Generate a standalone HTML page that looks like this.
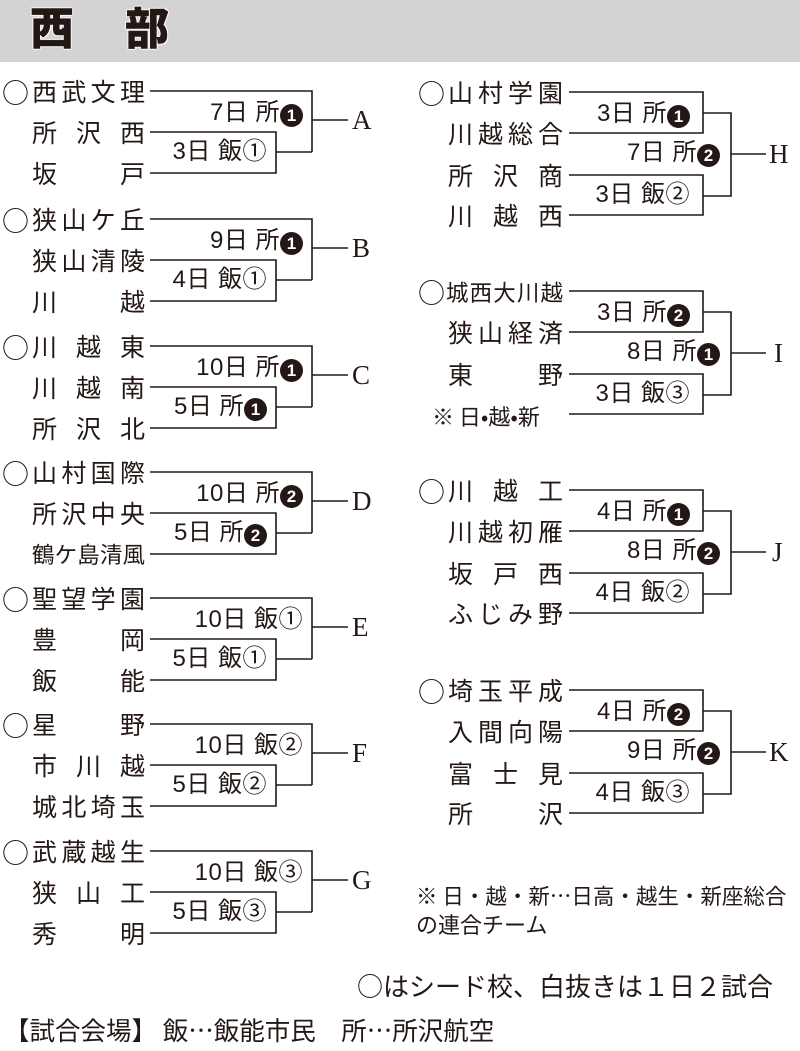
<!DOCTYPE html>
<html><head><meta charset="utf-8"><style>
body{margin:0;width:800px;height:1051px;background:#fff;position:relative;overflow:hidden;font-family:"Liberation Sans","Noto Sans CJK JP",sans-serif;color:#231815}
.hd{position:absolute;left:0;top:0;width:800px;height:62px;background:#d3d3d3}
.ht{position:absolute;top:2px;font-size:44px;font-weight:900;line-height:56px;-webkit-text-stroke:0.5px #231815;text-shadow:0 0 2px #fff,0 0 2px #fff,1px 1px 0 #fff,-1px -1px 0 #fff,1px -1px 0 #fff,-1px 1px 0 #fff}
.n{position:absolute;font-size:25px;line-height:30px;height:30px;text-align:justify;text-align-last:justify;white-space:nowrap}
.s{position:absolute;font-size:27px;line-height:30px;font-family:"Noto Sans CJK JP",sans-serif}
.l{position:absolute;font-size:24px;line-height:26px;white-space:nowrap;text-align:right;letter-spacing:0.5px}
.b{display:inline-block;width:23px;height:23px;border-radius:50%;background:#231815;color:#fff;font-size:17px;font-weight:bold;line-height:23px;text-align:center;vertical-align:-1px;font-family:"Liberation Sans",sans-serif;letter-spacing:0}
.L{position:absolute;font-family:"Liberation Serif",serif;font-size:27px;line-height:30px}
.t{position:absolute;font-size:22px;line-height:28px;white-space:nowrap;font-family:"Noto Sans CJK JP",sans-serif}
</style></head><body>
<div class="hd"></div>
<div class="ht" style="left:30px">西</div>
<div class="ht" style="left:125px">部</div>

<svg width="800" height="1051" style="position:absolute;left:0;top:0" fill="none" stroke="#231815" stroke-width="1.6">
<path d="M150 91H312V152M150 132H276V173H150M276 152H312M312 120H348"/>
<path d="M150 219H312V280M150 260H276V301H150M276 280H312M312 248H348"/>
<path d="M150 346H312V407M150 387H276V428H150M276 407H312M312 375H348"/>
<path d="M150 472H312V533M150 513H276V554H150M276 533H312M312 501H348"/>
<path d="M150 598H312V659M150 639H276V680H150M276 659H312M312 627H348"/>
<path d="M150 724H312V785M150 765H276V806H150M276 785H312M312 753H348"/>
<path d="M150 851H312V912M150 892H276V933H150M276 912H312M312 880H348"/>
<path d="M569 92H703V133H569M569 175H703V215H569M703 113H731V196H703M731 154H766"/>
<path d="M569 291H703V332H569M569 374H703V414H569M703 312H731V395H703M731 353H766"/>
<path d="M569 490H703V531H569M569 573H703V613H569M703 511H731V594H703M731 552H766"/>
<path d="M569 690H703V731H569M569 773H703V813H569M703 711H731V794H703M731 752H766"/>
</svg>

<div class="s" style="left:2px;top:77px">○</div>
<div class="n" style="left:32px;top:78px;width:113px">西武文理</div>
<div class="n" style="left:32px;top:119px;width:113px">所沢西</div>
<div class="n" style="left:32px;top:160px;width:113px">坂戸</div>
<div class="l" style="right:497px;top:100px">7日 所<span class="b">1</span></div>
<div class="l" style="right:533px;top:139px">3日 飯①</div>
<div class="L" style="left:352px;top:105px">A</div>

<div class="s" style="left:2px;top:205px">○</div>
<div class="n" style="left:32px;top:206px;width:113px">狭山ケ丘</div>
<div class="n" style="left:32px;top:247px;width:113px">狭山清陵</div>
<div class="n" style="left:32px;top:288px;width:113px">川越</div>
<div class="l" style="right:497px;top:228px">9日 所<span class="b">1</span></div>
<div class="l" style="right:533px;top:267px">4日 飯①</div>
<div class="L" style="left:352px;top:233px">B</div>

<div class="s" style="left:2px;top:332px">○</div>
<div class="n" style="left:32px;top:333px;width:113px">川越東</div>
<div class="n" style="left:32px;top:374px;width:113px">川越南</div>
<div class="n" style="left:32px;top:415px;width:113px">所沢北</div>
<div class="l" style="right:497px;top:355px">10日 所<span class="b">1</span></div>
<div class="l" style="right:533px;top:394px">5日 所<span class="b">1</span></div>
<div class="L" style="left:352px;top:360px">C</div>

<div class="s" style="left:2px;top:458px">○</div>
<div class="n" style="left:32px;top:459px;width:113px">山村国際</div>
<div class="n" style="left:32px;top:500px;width:113px">所沢中央</div>
<div class="n" style="left:32px;top:541px;width:113px;font-size:22.5px">鶴ケ島清風</div>
<div class="l" style="right:497px;top:481px">10日 所<span class="b">2</span></div>
<div class="l" style="right:533px;top:520px">5日 所<span class="b">2</span></div>
<div class="L" style="left:352px;top:486px">D</div>

<div class="s" style="left:2px;top:584px">○</div>
<div class="n" style="left:32px;top:585px;width:113px">聖望学園</div>
<div class="n" style="left:32px;top:626px;width:113px">豊岡</div>
<div class="n" style="left:32px;top:667px;width:113px">飯能</div>
<div class="l" style="right:497px;top:607px">10日 飯①</div>
<div class="l" style="right:533px;top:646px">5日 飯①</div>
<div class="L" style="left:352px;top:612px">E</div>

<div class="s" style="left:2px;top:710px">○</div>
<div class="n" style="left:32px;top:711px;width:113px">星野</div>
<div class="n" style="left:32px;top:752px;width:113px">市川越</div>
<div class="n" style="left:32px;top:793px;width:113px">城北埼玉</div>
<div class="l" style="right:497px;top:733px">10日 飯②</div>
<div class="l" style="right:533px;top:772px">5日 飯②</div>
<div class="L" style="left:352px;top:738px">F</div>

<div class="s" style="left:2px;top:837px">○</div>
<div class="n" style="left:32px;top:838px;width:113px">武蔵越生</div>
<div class="n" style="left:32px;top:879px;width:113px">狭山工</div>
<div class="n" style="left:32px;top:920px;width:113px">秀明</div>
<div class="l" style="right:497px;top:860px">10日 飯③</div>
<div class="l" style="right:533px;top:899px">5日 飯③</div>
<div class="L" style="left:352px;top:865px">G</div>

<div class="s" style="left:418px;top:78px">○</div>
<div class="n" style="left:448px;top:79px;width:115px">山村学園</div>
<div class="n" style="left:448px;top:120px;width:115px">川越総合</div>
<div class="n" style="left:448px;top:162px;width:115px">所沢商</div>
<div class="n" style="left:448px;top:202px;width:115px">川越西</div>
<div class="l" style="right:110px;top:101px">3日 所<span class="b">1</span></div>
<div class="l" style="right:80px;top:140px">7日 所<span class="b">2</span></div>
<div class="l" style="right:110px;top:182px">3日 飯②</div>
<div class="L" style="left:769px;top:139px">H</div>

<div class="s" style="left:418px;top:277px">○</div>
<div class="n" style="left:446px;top:279px;width:117px;font-size:22.5px">城西大川越</div>
<div class="n" style="left:448px;top:319px;width:115px">狭山経済</div>
<div class="n" style="left:448px;top:361px;width:115px">東野</div>
<div class="s" style="left:432px;top:401px;font-size:22px">※ 日•越•新</div>
<div class="l" style="right:110px;top:300px">3日 所<span class="b">2</span></div>
<div class="l" style="right:80px;top:339px">8日 所<span class="b">1</span></div>
<div class="l" style="right:110px;top:381px">3日 飯③</div>
<div class="L" style="left:774px;top:338px">I</div>

<div class="s" style="left:418px;top:476px">○</div>
<div class="n" style="left:448px;top:477px;width:115px">川越工</div>
<div class="n" style="left:448px;top:518px;width:115px">川越初雁</div>
<div class="n" style="left:448px;top:560px;width:115px">坂戸西</div>
<div class="n" style="left:448px;top:600px;width:115px">ふじみ野</div>
<div class="l" style="right:110px;top:499px">4日 所<span class="b">1</span></div>
<div class="l" style="right:80px;top:538px">8日 所<span class="b">2</span></div>
<div class="l" style="right:110px;top:580px">4日 飯②</div>
<div class="L" style="left:772px;top:537px">J</div>

<div class="s" style="left:418px;top:676px">○</div>
<div class="n" style="left:448px;top:677px;width:115px">埼玉平成</div>
<div class="n" style="left:448px;top:718px;width:115px">入間向陽</div>
<div class="n" style="left:448px;top:760px;width:115px">富士見</div>
<div class="n" style="left:448px;top:800px;width:115px">所沢</div>
<div class="l" style="right:110px;top:699px">4日 所<span class="b">2</span></div>
<div class="l" style="right:80px;top:738px">9日 所<span class="b">2</span></div>
<div class="l" style="right:110px;top:780px">4日 飯③</div>
<div class="L" style="left:769px;top:737px">K</div>

<div class="t" style="left:416px;top:882px;font-size:21.5px">※ 日・越・新…日高・越生・新座総合</div>
<div class="t" style="left:416px;top:910px">の連合チーム</div>
<div class="t" style="left:357px;top:972px;font-size:26px">○はシード校、白抜きは１日２試合</div>
<div class="t" style="left:4px;top:1016px;font-size:25.5px">【試合会場】 飯…飯能市民　所…所沢航空</div>
</body></html>
